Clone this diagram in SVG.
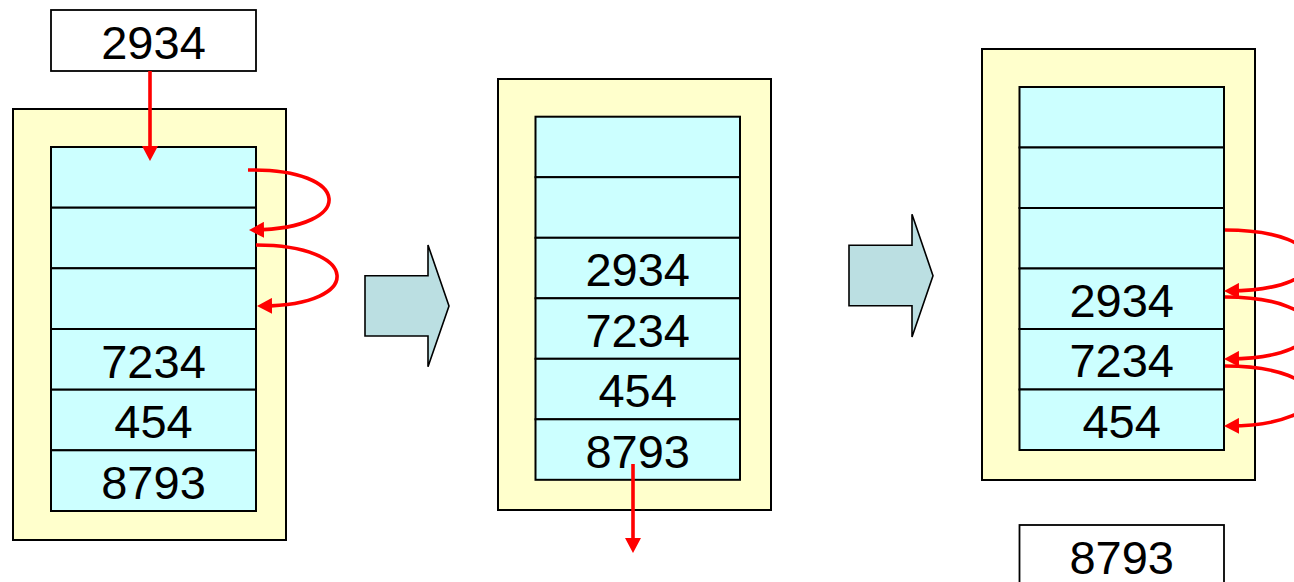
<svg xmlns="http://www.w3.org/2000/svg" width="1294" height="582" viewBox="0 0 1294 582">
  <style>
    .frame { fill: #ffffcc; stroke: #000; stroke-width: 2; }
    .cell { fill: #ccffff; stroke: #000; stroke-width: 2; }
    .box { fill: #ffffff; stroke: #000; stroke-width: 1.8; }
    .step { fill: #bbdfe2; stroke: #000; stroke-width: 1.6; stroke-linejoin: miter; }
    .num { font-family: "Liberation Sans", Arial, sans-serif; font-size: 47px; fill: #000; text-anchor: middle; }
    .link { fill: none; stroke: #ff0000; stroke-width: 3.6; marker-end: url(#head); }
  </style>
  <defs>
    <marker id="head" viewBox="0 0 15 16" refX="10" refY="8" markerWidth="15" markerHeight="16" markerUnits="userSpaceOnUse" orient="auto">
      <path d="M0,0 L15,8 L0,16 z" fill="#ff0000"/>
    </marker>
  </defs>

  <!-- incoming value -->
  <g id="incoming">
    <rect class="box" x="51" y="10" width="205" height="61"/>
    <text class="num" x="153.5" y="59">2934</text>
  </g>

  <!-- stack, state 1 -->
  <g id="stack-1">
    <rect class="frame" x="13" y="109" width="273" height="431"/>
    <rect class="cell" x="51" y="147" width="205" height="60.7"/>
    <rect class="cell" x="51" y="207.7" width="205" height="60.6"/>
    <rect class="cell" x="51" y="268.3" width="205" height="60.7"/>
    <rect class="cell" x="51" y="329" width="205" height="60.7"/>
    <rect class="cell" x="51" y="389.7" width="205" height="60.6"/>
    <rect class="cell" x="51" y="450.3" width="205" height="60.7"/>
    <text class="num" x="153.5" y="377.5">7234</text>
    <text class="num" x="153.5" y="438">454</text>
    <text class="num" x="153.5" y="498.7">8793</text>
  </g>

  <g id="step-1">
    <path class="step" d="M365,275.7 L428,275.7 L428,245 L449,306 L428,366.7 L428,336 L365,336 z"/>
  </g>

  <!-- stack, state 2 -->
  <g id="stack-2">
    <rect class="frame" x="498" y="79" width="273" height="431"/>
    <rect class="cell" x="535.5" y="116.7" width="204.5" height="60.5"/>
    <rect class="cell" x="535.5" y="177.2" width="204.5" height="60.6"/>
    <rect class="cell" x="535.5" y="237.8" width="204.5" height="60.5"/>
    <rect class="cell" x="535.5" y="298.3" width="204.5" height="60.5"/>
    <rect class="cell" x="535.5" y="358.8" width="204.5" height="60.5"/>
    <rect class="cell" x="535.5" y="419.3" width="204.5" height="60.5"/>
    <text class="num" x="637.7" y="286">2934</text>
    <text class="num" x="637.7" y="346.5">7234</text>
    <text class="num" x="637.7" y="407">454</text>
    <text class="num" x="637.7" y="467.5">8793</text>
  </g>

  <g id="step-2">
    <path class="step" d="M849,245.3 L912,245.3 L912,214.3 L933,275.7 L912,337 L912,305.7 L849,305.7 z"/>
  </g>

  <!-- stack, state 3 -->
  <g id="stack-3">
    <rect class="frame" x="982" y="49" width="273" height="431"/>
    <rect class="cell" x="1019.5" y="87" width="204.5" height="60.5"/>
    <rect class="cell" x="1019.5" y="147.5" width="204.5" height="60.5"/>
    <rect class="cell" x="1019.5" y="208" width="204.5" height="60.5"/>
    <rect class="cell" x="1019.5" y="268.5" width="204.5" height="60.5"/>
    <rect class="cell" x="1019.5" y="329" width="204.5" height="60.5"/>
    <rect class="cell" x="1019.5" y="389.5" width="204.5" height="60.5"/>
    <text class="num" x="1121.7" y="316.8">2934</text>
    <text class="num" x="1121.7" y="377.3">7234</text>
    <text class="num" x="1121.7" y="437.8">454</text>
  </g>

  <!-- removed value -->
  <g id="outgoing">
    <rect class="box" x="1019.5" y="525" width="204.5" height="61"/>
    <text class="num" x="1121.7" y="573.5">8793</text>
  </g>

  <g id="connectors">
    <path class="link" d="M150,71 L150,156"/>
    <path class="link" d="M248,170 C352,168 358,228 254,230"/>
    <path class="link" d="M256,245 C360,245 366,305 262,306"/>
    <path class="link" d="M633,464 L633,548"/>
    <path class="link" d="M1225,230 C1335,230 1341,290 1229,291"/>
    <path class="link" d="M1225,297 C1335,297 1341,358 1229,359"/>
    <path class="link" d="M1225,366 C1335,366 1341,425 1229,426"/>
  </g>
</svg>
